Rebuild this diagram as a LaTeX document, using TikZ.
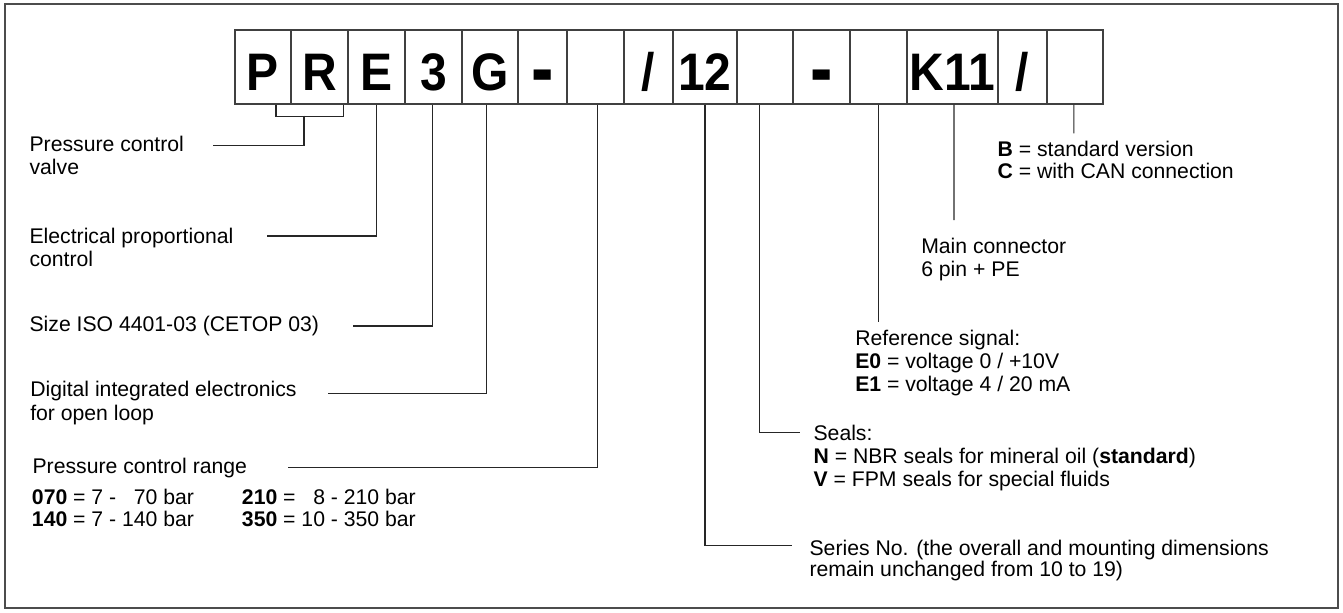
\documentclass[tikz,border=0pt]{standalone}
\usepackage{graphicx}
\usepackage{fontspec}
\setmainfont{Liberation Sans}
\newcommand\bxt[1]{\scalebox{1}[1.1]{#1}}
\newcommand\bxdash{\raisebox{-5.5pt}{\scalebox{1.4}[1.8]{-}}}
\begin{document}
\begin{tikzpicture}[x=0.75pt,y=-0.75pt,
  frame/.style={draw=black!70, line width=0.9pt},
  box/.style={draw=black!75, line width=0.9pt, minimum height=55.5pt, inner sep=0pt,
    text height=34.5pt, text depth=0pt, font=\fontsize{36}{40}\selectfont\bfseries},
  lead/.style={draw=black!85, line width=0.8pt},
  lbl/.style={anchor=base west, inner sep=0pt, font=\fontsize{15.9}{19}\selectfont}]
\useasboundingbox (0,0) rectangle (1343,612);
\draw[frame] (5,4) rectangle (1338,608);
% code boxes
\node[box, minimum width=42pt]    (b1)  at (263,67)    {\bxt{P}};
\node[box, minimum width=42.75pt] (b2)  at (319.5,67)  {\bxt{R}};
\node[box, minimum width=42.75pt] (b3)  at (376.5,67)  {\bxt{E}};
\node[box, minimum width=42.75pt] (b4)  at (433.5,67)  {\bxt{3}};
\node[box, minimum width=42pt]    (b5)  at (490,67)    {\bxt{G}};
\node[box, minimum width=36.75pt] (b6)  at (542.5,67)  {\bxdash};
\node[box, minimum width=42.75pt] (b7)  at (595.5,67)  {};
\node[box, minimum width=36.75pt] (b8)  at (648.5,67)  {\bxt{/}};
\node[box, minimum width=48pt]    (b9)  at (705,67)    {\bxt{12}};
\node[box, minimum width=42pt]    (b10) at (765,67)    {};
\node[box, minimum width=42.75pt] (b11) at (821.5,67)  {\bxdash};
\node[box, minimum width=42.75pt] (b12) at (878.5,67)  {};
\node[box, minimum width=68.25pt] (b13) at (952.5,67)  {\bxt{K11}};
\node[box, minimum width=36.75pt] (b14) at (1022.5,67) {\bxt{/}};
\node[box, minimum width=42pt]    (b15) at (1075,67)   {};
% left labels
\node[lbl] (t1a) at (29.3,151.7) {Pressure control};
\node[lbl] (t1b) at (29.3,174.7) {valve};
\node[lbl] (t2a) at (29.3,243) {Electrical proportional};
\node[lbl] (t2b) at (29.3,266.7) {control};
\node[lbl] (t3a) at (29.3,331.7) {Size ISO 4401-03 (CETOP 03)};
\node[lbl] (t4a) at (30,396.7) {Digital integrated electronics};
\node[lbl] (t4b) at (30,420) {for open loop};
\node[lbl] (t5a) at (32.3,473.3) {Pressure control range};
\node[lbl] (t5b) at (31.7,504) {\textbf{070} = 7 - \phantom{0}70 bar};
\node[lbl] (t5c) at (31.7,526.7) {\textbf{140} = 7 - 140 bar};
\node[lbl] (t5d) at (241.7,504) {\textbf{210} = \phantom{0}8 - 210 bar};
\node[lbl] (t5e) at (241.7,526.7) {\textbf{350} = 10 - 350 bar};
% right labels
\node[lbl] (t10a) at (997.3,156.7) {\textbf{B} = standard version};
\node[lbl] (t10b) at (997.3,178.3) {\textbf{C} = with CAN connection};
\node[lbl] (t9a) at (921,253.3) {Main connector};
\node[lbl] (t9b) at (921,276) {6 pin + PE};
\node[lbl] (t8a) at (855,345) {Reference signal:};
\node[lbl] (t8b) at (855,368.3) {\textbf{E0} = voltage 0 / +10V};
\node[lbl] (t8c) at (855,391) {\textbf{E1} = voltage 4 / 20 mA};
\node[lbl] (t7a) at (813.3,440) {Seals:};
\node[lbl] (t7b) at (813.3,463.3) {\textbf{N} = NBR seals for mineral oil (\textbf{standard})};
\node[lbl] (t7c) at (813.3,486) {\textbf{V} = FPM seals for special fluids};
\node[lbl] (t6a) at (809.3,555) {Series No. (the overall and mounting dimensions};
\node[lbl] (t6b) at (809.3,576.7) {remain unchanged from 10 to 19)};
% leader end points
\coordinate (brm) at (304,115.5);
\coordinate (e1) at (212.7,145.7);
\coordinate (e2) at (266.7,236);
\coordinate (e3) at (352.7,326);
\coordinate (e4) at (327.8,393.5);
\coordinate (e5) at (288.4,467.7);
\coordinate (e6) at (792.3,545.7);
\coordinate (e7) at (800,432.3);
\coordinate (e8) at (878.5,321.7);
\coordinate (e9) at (954,220);
\coordinate (e10) at (1073.8,133.3);
% leaders
\draw[lead] ([xshift=9.75pt]b1.south) -- ++(0,11.5) -| ([xshift=17.85pt]b2.south);
\draw[lead] (brm) |- (e1);
\draw[lead] (b3.south) |- (e2);
\draw[lead] ([xshift=-0.9pt]b4.south) |- (e3);
\draw[lead] ([xshift=-2.6pt]b5.south) |- (e4);
\draw[lead] ([xshift=1.4pt]b7.south) |- (e5);
\draw[lead] (b9.south) |- (e6);
\draw[lead] ([xshift=-4.3pt]b10.south) |- (e7);
\draw[lead] (b12.south) -- (e8);
\draw[lead] ([xshift=1.1pt]b13.south) -- (e9);
\draw[lead] ([xshift=-0.9pt]b15.south) -- (e10);
\end{tikzpicture}
\end{document}
